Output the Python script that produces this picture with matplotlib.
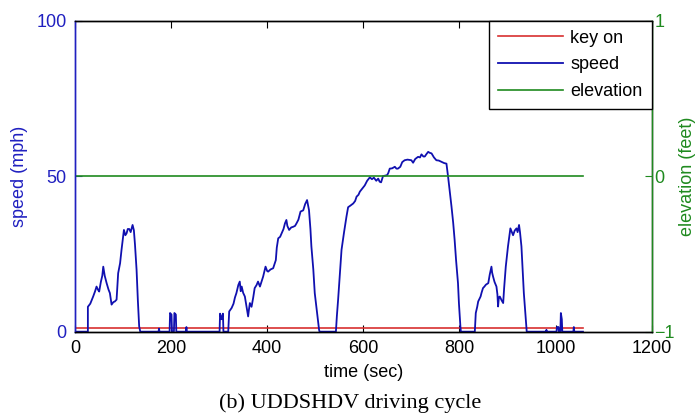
import matplotlib
matplotlib.use("Agg")
import matplotlib.pyplot as plt

# ---- data ----
time_s = [0, 24, 27, 27, 32, 38, 42, 45, 48, 50.5, 54, 57, 59, 62, 66, 70, 72.8, 76.3, 80, 83, 86.7, 90, 94, 97,
          100, 102, 105, 107.5, 110, 113, 116, 120, 122.7, 125, 128.3, 131, 133.7, 136,
          174, 175, 176, 197, 198, 201, 202, 206, 207, 210, 211, 231, 232, 233,
          301, 302, 305, 308, 309, 319, 321, 326, 330, 333, 336, 340, 343, 345, 347, 350, 353.6, 357, 360.4,
          362, 364, 367.5, 371, 374, 378, 381, 385, 388, 391.6, 396.6, 400, 402, 407, 412.5, 418, 420, 423,
          427, 430, 434, 437, 440, 442, 445.7, 450, 454, 458, 461, 465, 469.4, 475, 479, 483, 487, 490, 492,
          496, 499, 504, 508, 509,
          543, 545, 547.6, 551, 554.7, 560, 565, 568.4, 573, 579, 583, 586, 590, 592.8, 598, 603, 608, 613.6,
          618, 622, 627, 631, 634, 637, 641, 649.5, 652, 655, 660, 665.6, 669, 672, 677, 681, 686, 692, 700,
          703.6, 708, 714, 718, 721, 725, 728, 731, 735, 738, 742, 747, 752, 757, 762.7, 768, 773, 776.4, 780,
          783.5, 787, 790, 793, 797, 799, 802, 803,
          832, 834, 837, 839, 844, 846, 849, 852, 855, 860, 863, 866.6, 868, 870, 873, 877, 879, 880.4, 882,
          884, 888, 891, 893, 896.4, 901, 906, 909, 911.6, 915, 918.7, 921, 924, 926, 929, 934, 937, 939.5, 940,
          980, 981, 982, 1002, 1003, 1006, 1007, 1010, 1011, 1013, 1014, 1037, 1038, 1039, 1057]
speed_mph = [0, 0, 0, 8, 9, 11.3, 13, 14.5, 13.5, 12.9, 16, 18, 20.9, 18, 15.6, 13.5, 12.4, 8.7, 9.5, 9.7, 10.3, 18.8, 22, 26.3,
             30, 32.7, 31, 31.6, 33, 33, 32, 34.3, 32.6, 28, 19.9, 10, 1.7, 0,
             0, 1, 0, 0, 6, 5.5, 0, 0, 6, 5.5, 0, 0, 1.5, 0,
             0, 5.8, 4, 5.8, 0, 0, 6.5, 7.6, 9, 11, 12.4, 15, 16.1, 13, 14.5, 12.5, 11.3, 8, 4.9,
             7, 9.2, 8, 11, 14, 15, 16.1, 14.5, 16, 17.7, 20.9, 19.5, 19.3, 20, 20.4, 23, 27, 30,
             30.5, 31.6, 33, 34.8, 35.9, 34, 32.7, 33.5, 33.7, 34, 34.8, 36, 38.6, 39, 41, 42.3, 39.1, 33, 27.4,
             20, 12.4, 6, 0.6, 0,
             0, 5, 10.3, 18, 26.3, 32, 37, 40, 40.5, 41.2, 42, 43.4, 44, 45, 46, 47, 48.5, 49.6,
             49, 49.5, 48.5, 49.2, 48.2, 48, 50, 50.3, 51, 52.4, 52.5, 53, 52.4, 52.4, 53, 54.5, 55.1, 55.3, 55.1,
             54.3, 55.5, 56.2, 56, 57, 56.3, 56.3, 57, 57.8, 57.5, 57.3, 56, 55.1, 55, 54.6, 54.2, 54, 49.8, 45,
             40.2, 35, 29.5, 23, 15.6, 9, 1.7, 0,
             0, 6, 8, 9.7, 11.3, 12.5, 14, 14.5, 15.1, 15.6, 18.3, 20.9, 19, 17.7, 16, 14.5, 12, 8.1, 11,
             11.3, 10, 9.2, 14, 20.9, 27.4, 33.2, 32, 31, 32.5, 33.2, 32, 34.3, 32, 27.4, 12.4, 6, 1, 0,
             0, 0.6, 0, 0, 1.5, 1.5, 0, 0, 6, 4, 0, 0, 1.5, 0, 0]
key_time = [0, 1057]
key_on = [1.3, 1.3]
elev_time = [0, 1057]
elevation_ft = [0, 0]

x_ticks = [0, 200, 400, 600, 800, 1000, 1200]
left_ticks = [0, 50, 100]
right_ticks = [-1, 0, 1]

BLUE = "#1010b0"
RED = "#d83030"
GREEN = "#1f8a1f"
LBLUE = "#2020c0"

plt.rcParams['font.family'] = ['Liberation Sans', 'DejaVu Sans']

fig = plt.figure(figsize=(7.0, 4.19), dpi=100)
ax = fig.add_axes([0.107, 0.2084, 0.824, 0.7426])
ax2 = ax.twinx()

l1, = ax.plot(key_time, key_on, color=RED, lw=1.2, label="key on")
l2, = ax.plot(time_s, speed_mph, color=BLUE, lw=1.3, label="speed")
l3, = ax2.plot(elev_time, elevation_ft, color=GREEN, lw=1.2, label="elevation")

ax.set_xlim(0, 1200)
ax.set_ylim(0, 100)
ax2.set_ylim(-1, 1)
ax.set_xticks(x_ticks)
ax.set_yticks(left_ticks)
ax2.set_yticks(right_ticks)

fs = 13
ax.tick_params(axis='x', direction='in', top=True, length=5, labelsize=fs, colors='black', pad=6)
ax.tick_params(axis='y', direction='in', length=5, labelsize=fs, colors=LBLUE, pad=6)
ax2.tick_params(axis='y', direction='in', length=5, labelsize=fs, colors=GREEN, pad=2)

ax.spines['left'].set_color(LBLUE)
ax2.spines['left'].set_color(LBLUE)
ax2.spines['right'].set_color(GREEN)
for a in (ax, ax2):
    a.spines['top'].set_color('black')
    a.spines['bottom'].set_color('black')
    for s in a.spines.values():
        s.set_linewidth(1.0)

ax.set_xlabel("time (sec)", fontsize=fs, labelpad=5)
ax.set_ylabel("speed (mph)", fontsize=fs, color=LBLUE, labelpad=6)
ax2.set_ylabel("elevation (feet)", fontsize=fs, color=GREEN, labelpad=3)

leg = ax2.legend(handles=[l1, l2, l3], loc='upper right', bbox_to_anchor=(1.0, 1.0),
                 borderaxespad=0, fancybox=False, framealpha=1, edgecolor='black',
                 fontsize=fs, handlelength=3.6, labelspacing=0.55, borderpad=0.5,
                 handletextpad=0.4)
leg.get_frame().set_linewidth(1.0)

fig.text(0.5, 0.015, "(b) UDDSHDV driving cycle", ha='center', va='bottom',
         fontsize=16, family=['Liberation Serif', 'DejaVu Serif'])

fig.savefig("out.png", dpi=100)
